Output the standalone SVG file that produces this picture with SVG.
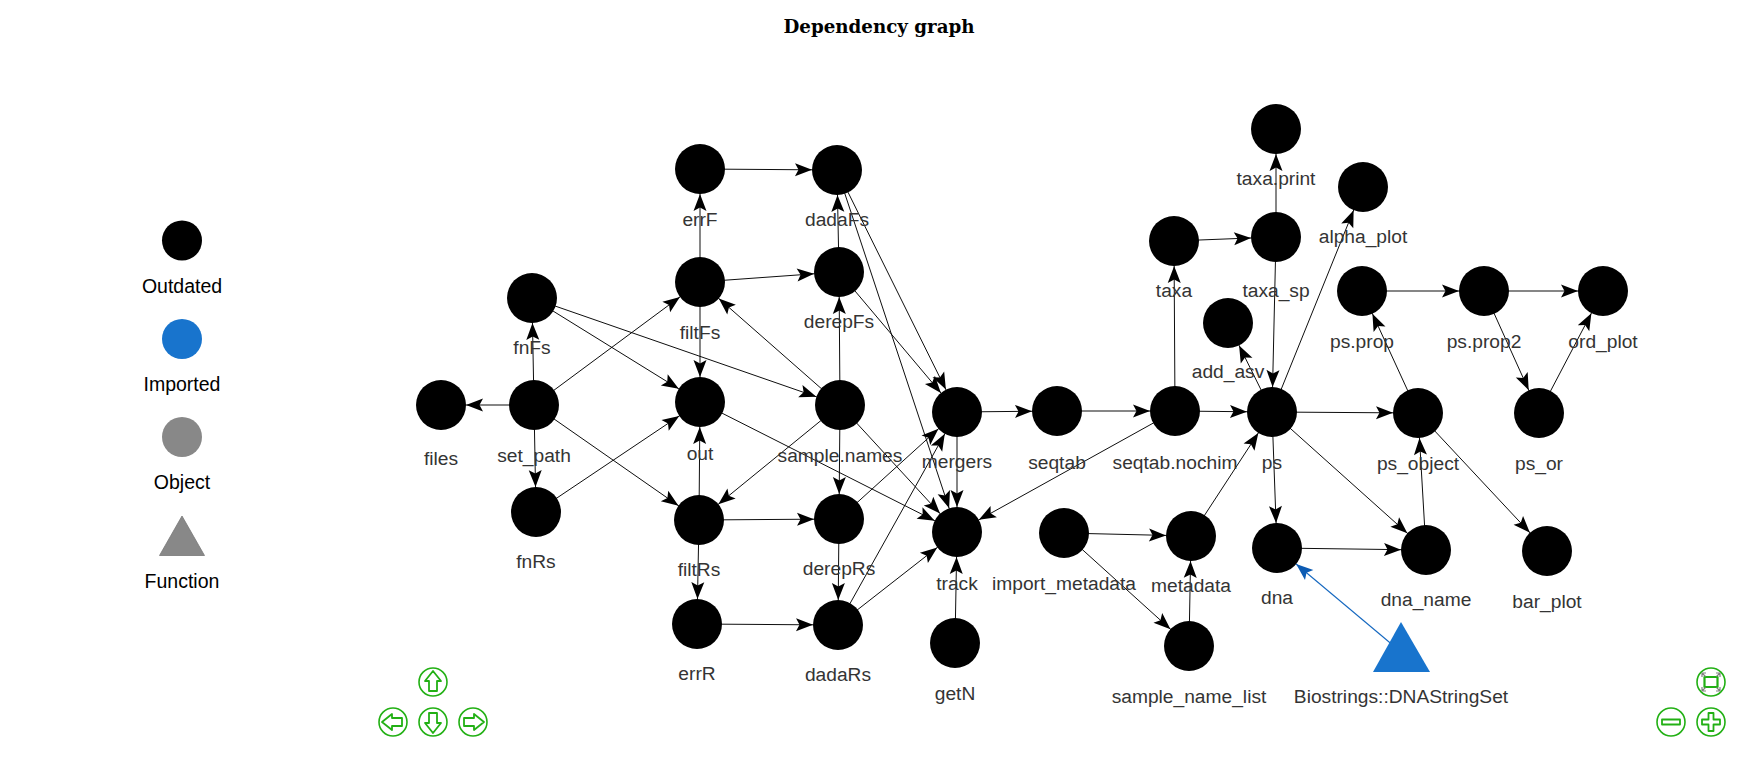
<svg xmlns="http://www.w3.org/2000/svg" width="1756" height="766" viewBox="0 0 1756 766">
<style>
text{font-family:"Liberation Sans",Arial,sans-serif;font-size:19.2px;text-anchor:middle;fill:#343434}
.lg text{fill:#000;font-size:19.5px}
.title{font-family:"DejaVu Serif",serif;font-size:18px;font-weight:bold;fill:#000}
.n{fill:#000}
.e line{stroke:#000;stroke-width:0.95;marker-end:url(#a)}
.e line.b{stroke:#1568c0;stroke-width:1.1;marker-end:url(#ab)}
.btn circle{fill:#fff;stroke:#22b014;stroke-width:1.6}
.btn path,#arrowUp{fill:#fff;stroke:#22b014;stroke-width:1.8;stroke-linejoin:round}
.btn path.g{fill:none;stroke:#808080;stroke-width:1.2}
</style>
<defs>
<marker id="a" markerUnits="userSpaceOnUse" viewBox="0 0 50 16" markerWidth="50" markerHeight="16" refX="50" refY="8" orient="auto"><path d="M25,8 L8,1.5 L11.5,8 L8,14.5 Z" fill="#000"/></marker>
<marker id="ab" markerUnits="userSpaceOnUse" viewBox="0 0 50 16" markerWidth="50" markerHeight="16" refX="50" refY="8" orient="auto"><path d="M25,8 L8,1.5 L11.5,8 L8,14.5 Z" fill="#0c5bb3"/></marker>
<path id="arrowUp" d="M0,-11 L8,-1 L4,-1 L4,9 L-4,9 L-4,-1 L-8,-1 Z"/>
</defs>
<rect width="1756" height="766" fill="#fff"/>
<text class="title" x="879" y="33" textLength="191" lengthAdjust="spacingAndGlyphs">Dependency graph</text>
<g id="legend" class="lg">
<g id="legend-outdated"><circle cx="182" cy="240.5" r="20" fill="#000"/><text x="182" y="293">Outdated</text></g>
<g id="legend-imported"><circle cx="182" cy="339" r="20" fill="#1874CD"/><text x="182" y="391">Imported</text></g>
<g id="legend-object"><circle cx="182" cy="437" r="20" fill="#888888"/><text x="182" y="489">Object</text></g>
<g id="legend-function"><path d="M182,516 L204.5,555.5 L159.5,555.5 Z" fill="#888888" stroke="#777" stroke-width="0.8"/><text x="182" y="588">Function</text></g>
</g>
<g id="connectors" class="e">
<line x1="534" y1="405" x2="532" y2="298"/>
<line x1="534" y1="405" x2="441" y2="405"/>
<line x1="534" y1="405" x2="536" y2="512"/>
<line x1="534" y1="405" x2="700" y2="282"/>
<line x1="534" y1="405" x2="699" y2="520"/>
<line x1="532" y1="298" x2="700" y2="402"/>
<line x1="536" y1="512" x2="700" y2="402"/>
<line x1="532" y1="298" x2="840" y2="405"/>
<line x1="700" y1="402" x2="957" y2="532"/>
<line x1="700" y1="282" x2="700" y2="169"/>
<line x1="700" y1="282" x2="839" y2="272"/>
<line x1="700" y1="282" x2="700" y2="402"/>
<line x1="699" y1="520" x2="700" y2="402"/>
<line x1="699" y1="520" x2="839" y2="519"/>
<line x1="699" y1="520" x2="697" y2="624"/>
<line x1="700" y1="169" x2="837" y2="170"/>
<line x1="839" y1="272" x2="837" y2="170"/>
<line x1="837" y1="170" x2="957" y2="412"/>
<line x1="837" y1="170" x2="957" y2="532"/>
<line x1="839" y1="272" x2="957" y2="412"/>
<line x1="840" y1="405" x2="700" y2="282"/>
<line x1="840" y1="405" x2="699" y2="520"/>
<line x1="840" y1="405" x2="839" y2="272"/>
<line x1="840" y1="405" x2="839" y2="519"/>
<line x1="840" y1="405" x2="957" y2="532"/>
<line x1="839" y1="519" x2="838" y2="625"/>
<line x1="697" y1="624" x2="838" y2="625"/>
<line x1="839" y1="519" x2="957" y2="412"/>
<line x1="838" y1="625" x2="957" y2="412"/>
<line x1="838" y1="625" x2="957" y2="532"/>
<line x1="957" y1="412" x2="957" y2="532"/>
<line x1="957" y1="412" x2="1057" y2="411"/>
<line x1="1057" y1="411" x2="1175" y2="411"/>
<line x1="1175" y1="411" x2="1174" y2="241"/>
<line x1="1175" y1="411" x2="1272" y2="412"/>
<line x1="1175" y1="411" x2="957" y2="532"/>
<line x1="1174" y1="241" x2="1276" y2="237"/>
<line x1="1276" y1="237" x2="1276" y2="129"/>
<line x1="1276" y1="237" x2="1272" y2="412"/>
<line x1="1272" y1="412" x2="1363" y2="187"/>
<line x1="1272" y1="412" x2="1228" y2="323"/>
<line x1="1272" y1="412" x2="1418" y2="413"/>
<line x1="1272" y1="412" x2="1277" y2="548"/>
<line x1="1272" y1="412" x2="1426" y2="550"/>
<line x1="1418" y1="413" x2="1362" y2="291"/>
<line x1="1418" y1="413" x2="1547" y2="551"/>
<line x1="1277" y1="548" x2="1426" y2="550"/>
<line x1="1426" y1="550" x2="1418" y2="413"/>
<line x1="1362" y1="291" x2="1484" y2="291"/>
<line x1="1484" y1="291" x2="1603" y2="291"/>
<line x1="1484" y1="291" x2="1539" y2="413"/>
<line x1="1539" y1="413" x2="1603" y2="291"/>
<line x1="1191" y1="536" x2="1272" y2="412"/>
<line x1="1064" y1="533" x2="1191" y2="536"/>
<line x1="1064" y1="533" x2="1189" y2="646"/>
<line x1="1189" y1="646" x2="1191" y2="536"/>
<line x1="955" y1="643" x2="957" y2="532"/>
<line class="b" x1="1401" y1="652" x2="1277" y2="548"/>
</g>
<g id="n-errF"><circle class="n" cx="700" cy="169" r="25"/><text x="700" y="226">errF</text></g>
<g id="n-dadaFs"><circle class="n" cx="837" cy="170" r="25"/><text x="837" y="226">dadaFs</text></g>
<g id="n-filtFs"><circle class="n" cx="700" cy="282" r="25"/><text x="700" y="339">filtFs</text></g>
<g id="n-derepFs"><circle class="n" cx="839" cy="272" r="25"/><text x="839" y="328">derepFs</text></g>
<g id="n-fnFs"><circle class="n" cx="532" cy="298" r="25"/><text x="532" y="354">fnFs</text></g>
<g id="n-set_path"><circle class="n" cx="534" cy="405" r="25"/><text x="534" y="462">set_path</text></g>
<g id="n-files"><circle class="n" cx="441" cy="405" r="25"/><text x="441" y="465">files</text></g>
<g id="n-out"><circle class="n" cx="700" cy="402" r="25"/><text x="700" y="460">out</text></g>
<g id="n-sample-names"><circle class="n" cx="840" cy="405" r="25"/><text x="840" y="462">sample.names</text></g>
<g id="n-fnRs"><circle class="n" cx="536" cy="512" r="25"/><text x="536" y="568">fnRs</text></g>
<g id="n-filtRs"><circle class="n" cx="699" cy="520" r="25"/><text x="699" y="576">filtRs</text></g>
<g id="n-derepRs"><circle class="n" cx="839" cy="519" r="25"/><text x="839" y="575">derepRs</text></g>
<g id="n-errR"><circle class="n" cx="697" cy="624" r="25"/><text x="697" y="680">errR</text></g>
<g id="n-dadaRs"><circle class="n" cx="838" cy="625" r="25"/><text x="838" y="681">dadaRs</text></g>
<g id="n-mergers"><circle class="n" cx="957" cy="412" r="25"/><text x="957" y="468">mergers</text></g>
<g id="n-track"><circle class="n" cx="957" cy="532" r="25"/><text x="957" y="590">track</text></g>
<g id="n-getN"><circle class="n" cx="955" cy="643" r="25"/><text x="955" y="700">getN</text></g>
<g id="n-seqtab"><circle class="n" cx="1057" cy="411" r="25"/><text x="1057" y="469">seqtab</text></g>
<g id="n-seqtab-nochim"><circle class="n" cx="1175" cy="411" r="25"/><text x="1175" y="469">seqtab.nochim</text></g>
<g id="n-taxa"><circle class="n" cx="1174" cy="241" r="25"/><text x="1174" y="297">taxa</text></g>
<g id="n-taxa_sp"><circle class="n" cx="1276" cy="237" r="25"/><text x="1276" y="297">taxa_sp</text></g>
<g id="n-taxa-print"><circle class="n" cx="1276" cy="129" r="25"/><text x="1276" y="185">taxa.print</text></g>
<g id="n-alpha_plot"><circle class="n" cx="1363" cy="187" r="25"/><text x="1363" y="243">alpha_plot</text></g>
<g id="n-add_asv"><circle class="n" cx="1228" cy="323" r="25"/><text x="1228" y="378">add_asv</text></g>
<g id="n-ps"><circle class="n" cx="1272" cy="412" r="25"/><text x="1272" y="469">ps</text></g>
<g id="n-ps-prop"><circle class="n" cx="1362" cy="291" r="25"/><text x="1362" y="348">ps.prop</text></g>
<g id="n-ps-prop2"><circle class="n" cx="1484" cy="291" r="25"/><text x="1484" y="348">ps.prop2</text></g>
<g id="n-ord_plot"><circle class="n" cx="1603" cy="291" r="25"/><text x="1603" y="348">ord_plot</text></g>
<g id="n-ps_or"><circle class="n" cx="1539" cy="413" r="25"/><text x="1539" y="470">ps_or</text></g>
<g id="n-ps_object"><circle class="n" cx="1418" cy="413" r="25"/><text x="1418" y="470">ps_object</text></g>
<g id="n-bar_plot"><circle class="n" cx="1547" cy="551" r="25"/><text x="1547" y="608">bar_plot</text></g>
<g id="n-dna_name"><circle class="n" cx="1426" cy="550" r="25"/><text x="1426" y="606">dna_name</text></g>
<g id="n-dna"><circle class="n" cx="1277" cy="548" r="25"/><text x="1277" y="604">dna</text></g>
<g id="n-metadata"><circle class="n" cx="1191" cy="536" r="25"/><text x="1191" y="592">metadata</text></g>
<g id="n-import_metadata"><circle class="n" cx="1064" cy="533" r="25"/><text x="1064" y="590">import_metadata</text></g>
<g id="n-sample_name_list"><circle class="n" cx="1189" cy="646" r="25"/><text x="1189" y="703">sample_name_list</text></g>
<g id="n-Biostrings"><path d="M1401,622 L1430,672 L1373,672 Z" fill="#1874CD"/><text x="1401" y="703">Biostrings::DNAStringSet</text></g>
<g id="nav" class="btn">
<g id="btn-up" transform="translate(433,682)"><circle r="14"/><use href="#arrowUp"/></g>
<g id="btn-left" transform="translate(393,722)"><circle r="14"/><use href="#arrowUp" transform="rotate(-90)"/></g>
<g id="btn-down" transform="translate(433,722)"><circle r="14"/><use href="#arrowUp" transform="rotate(180)"/></g>
<g id="btn-right" transform="translate(473,722)"><circle r="14"/><use href="#arrowUp" transform="rotate(90)"/></g>
<g id="btn-fit" transform="translate(1711,682)"><circle r="14"/><path d="M-6.5,-5 h13 v10 h-13 Z" style="stroke-width:2.2"/><path class="g" d="M-9,-9 v4 M-9,-9 h4 M-9,-9 l3.5,3.5 M9,-9 v4 M9,-9 h-4 M9,-9 l-3.5,3.5 M-9,9 v-4 M-9,9 h4 M-9,9 l3.5,-3.5 M9,9 v-4 M9,9 h-4 M9,9 l-3.5,-3.5"/></g>
<g id="btn-minus" transform="translate(1671,722)"><circle r="14"/><path d="M-9,-2.5 H9 V2.5 H-9 Z"/></g>
<g id="btn-plus" transform="translate(1711,722)"><circle r="14"/><path d="M-2.5,-9 H2.5 V-2.5 H9 V2.5 H2.5 V9 H-2.5 V2.5 H-9 V-2.5 H-2.5 Z"/></g>
</g>
</svg>
